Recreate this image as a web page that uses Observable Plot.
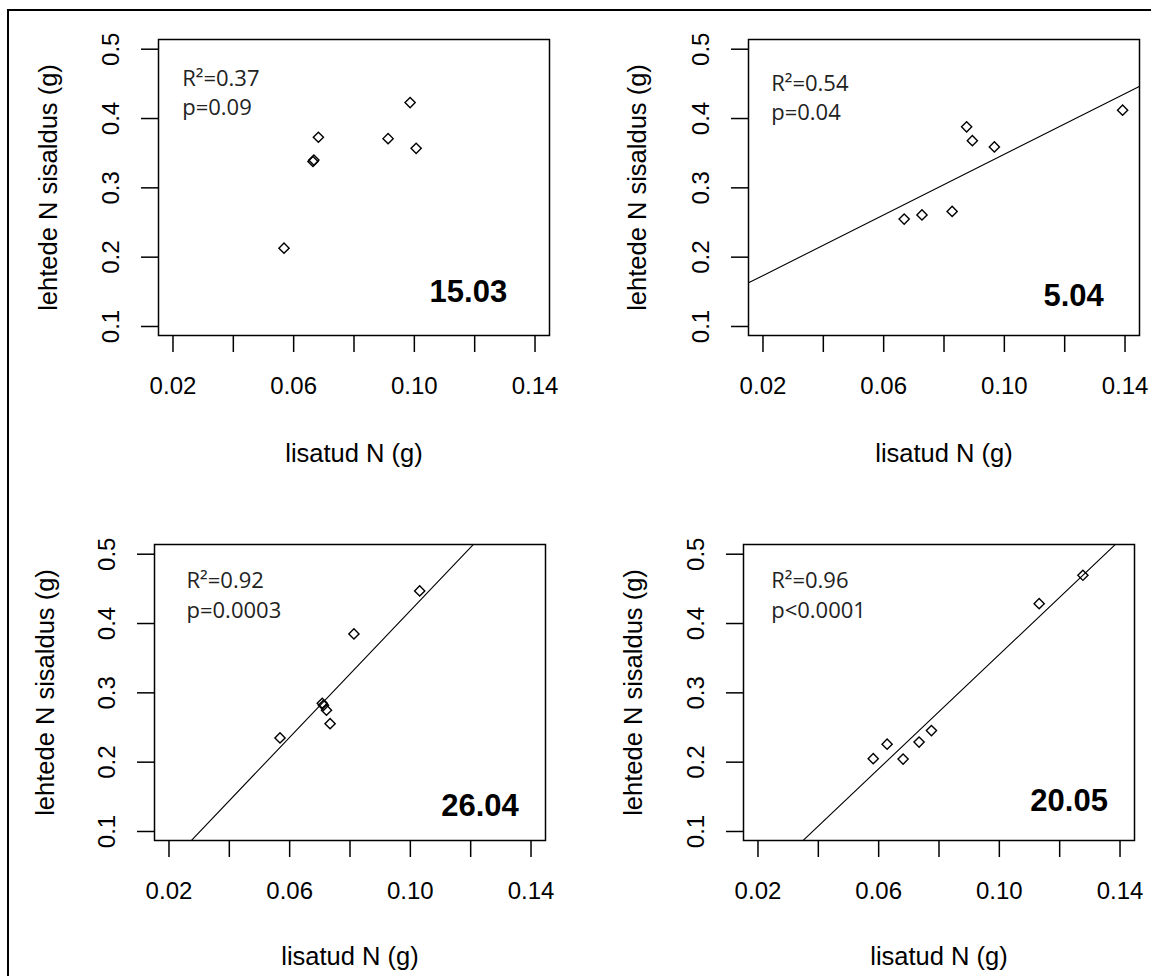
<!DOCTYPE html>
<html><head><meta charset="utf-8">
<script src="https://cdn.jsdelivr.net/npm/d3@7"></script>
<script src="https://cdn.jsdelivr.net/npm/@observablehq/plot@0.6"></script>
<style>
html,body{margin:0;padding:0;background:#fff;overflow:hidden}
#wrap{position:relative;width:1151px;height:976px;overflow:hidden;background:#fff}
#border{position:absolute;left:7px;top:9px;width:1300px;height:1300px;border:2px solid #000;box-sizing:border-box}
.panel{position:absolute}
</style></head><body>
<div id="wrap"><div id="border"></div></div>
<script>
// ---- data ----
const dates = ["15.03", "5.04", "26.04", "20.05"];
const r2Labels = ["R²=0.37", "R²=0.54", "R²=0.92", "R²=0.96"];
const pLabels = ["p=0.09", "p=0.04", "p=0.0003", "p<0.0001"];
const addedN = [
  [0.0568, 0.0664, 0.0667, 0.0682, 0.0913, 0.0986, 0.1006],
  [0.0668, 0.0727, 0.0827, 0.0875, 0.0894, 0.0967, 0.1392],
  [0.0568, 0.0708, 0.0712, 0.0722, 0.0734, 0.0813, 0.1031],
  [0.0582, 0.0628, 0.0681, 0.0734, 0.0775, 0.1132, 0.1277]
];
const leafN = [
  [0.213, 0.338, 0.340, 0.373, 0.371, 0.423, 0.357],
  [0.255, 0.261, 0.266, 0.388, 0.368, 0.359, 0.412],
  [0.235, 0.285, 0.282, 0.275, 0.2555, 0.385, 0.447],
  [0.205, 0.226, 0.2045, 0.229, 0.2456, 0.4286, 0.4696]
];
const intercepts = [null, 0.1297, -0.0383, -0.0572];
const slopes = [null, 2.187, 4.569, 4.126];
const xTicks = [0.02, 0.04, 0.06, 0.08, 0.10, 0.12, 0.14];
const xTickLabels = ["0.02", "", "0.06", "", "0.10", "", "0.14"];
const yTicks = [0.1, 0.2, 0.3, 0.4, 0.5];
const yTickLabels = ["0.1", "0.2", "0.3", "0.4", "0.5"];
const xTitle = "lisatud N (g)";
const yTitle = "lehtede N sisaldus (g)";

// ---- layout ----
const xDomain = [0.0152, 0.1448];
const yDomain = [0.087, 0.514];
const ML = 160, MT = 40, MR = 12, MB = 130, BW = 391, BH = 296;
const layout = [
  {left: 158, top: 39, r2Dy: 46, pDy: 75, statDx: 23.7, dateDx: -42.3, dateDy: -33.3, xtDy: 118, ytDx: -110},
  {left: 748, top: 39, r2Dy: 51, pDy: 80.3, statDx: 22.7, dateDx: -35.7, dateDy: -30, xtDy: 118, ytDx: -111},
  {left: 154, top: 543.5, r2Dy: 43.2, pDy: 73.2, statDx: 32, dateDx: -26.7, dateDy: -25, xtDy: 116, ytDx: -109},
  {left: 743, top: 543.5, r2Dy: 43.2, pDy: 73.2, statDx: 27.7, dateDx: -26.6, dateDy: -30, xtDy: 116, ytDx: -110}
];

const wrap = document.getElementById("wrap");
dates.forEach((date, i) => {
  const L = layout[i];
  const pts = addedN[i].map((x, j) => ({x, y: leafN[i][j]}));
  const marks = [
    Plot.frame({stroke: "#000", strokeWidth: 1.5}),
    Plot.axisX(xTicks, {tickSize: 17, tickPadding: 24, strokeWidth: 1.5, label: null,
      tickFormat: d => xTickLabels[xTicks.indexOf(d)], fontSize: 24}),
    Plot.axisY(yTicks, {tickSize: 17, tickPadding: 30, strokeWidth: 1.5, label: null, tickRotate: -90,
      textAnchor: "middle", lineAnchor: "middle",
      tickFormat: d => yTickLabels[yTicks.indexOf(d)], fontSize: 24}),
    Plot.text([xTitle], {text: d => d, frameAnchor: "bottom", lineAnchor: "middle", dy: L.xtDy, fontSize: 25.5}),
    Plot.text([yTitle], {text: d => d, frameAnchor: "left", rotate: -90, textAnchor: "middle", lineAnchor: "middle", dx: L.ytDx, fontSize: 25.5}),
    Plot.dot(pts, {x: "x", y: "y", symbol: "diamond2", r: 4.6, stroke: "#000", strokeWidth: 1.4, fill: "none"}),
    Plot.text([r2Labels[i]], {text: d => d, frameAnchor: "top-left", textAnchor: "start", lineAnchor: "bottom",
      dx: L.statDx, dy: L.r2Dy, fontFamily: "Open Sans", fontSize: 22, fill: "#222"}),
    Plot.text([pLabels[i]], {text: d => d, frameAnchor: "top-left", textAnchor: "start", lineAnchor: "bottom",
      dx: L.statDx, dy: L.pDy, fontFamily: "Open Sans", fontSize: 22, fill: "#222"}),
    Plot.text([date], {text: d => d, frameAnchor: "bottom-right", textAnchor: "end", lineAnchor: "bottom",
      dx: L.dateDx, dy: L.dateDy, fontWeight: "bold", fontSize: 31})
  ];
  if (slopes[i] !== null) {
    const a = intercepts[i], b = slopes[i];
    const lineData = xDomain.map(x => ({x, y: a + b * x}));
    marks.push(Plot.line(lineData, {x: "x", y: "y", stroke: "#000", strokeWidth: 1.1, clip: true}));
  }
  const svg = Plot.plot({
    width: ML + BW + MR,
    height: MT + BH + MB,
    marginLeft: ML, marginTop: MT, marginRight: MR, marginBottom: MB,
    x: {type: "linear", domain: xDomain},
    y: {type: "linear", domain: yDomain},
    style: {fontFamily: "'Liberation Sans', Arial, sans-serif", fontSize: "24px", color: "#000", background: "transparent", overflow: "visible"},
    marks
  });
  svg.classList.add("panel");
  svg.style.left = (L.left - ML) + "px";
  svg.style.top = (L.top - MT) + "px";
  wrap.appendChild(svg);
});
</script>
</body></html>
